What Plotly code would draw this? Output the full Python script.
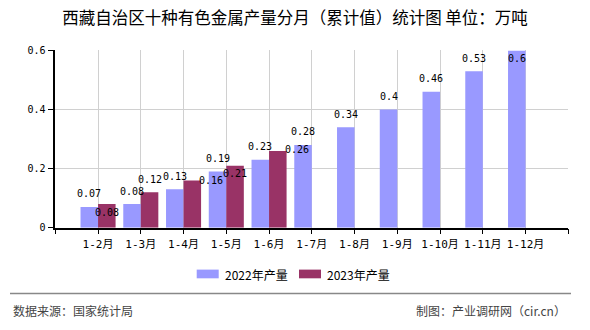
import plotly.graph_objects as go

# ---- data ----
categories = ["1-2月", "1-3月", "1-4月", "1-5月", "1-6月", "1-7月",
              "1-8月", "1-9月", "1-10月", "1-11月", "1-12月"]
values_2022 = [0.07, 0.08, 0.13, 0.19, 0.23, 0.28, 0.34, 0.40, 0.46, 0.53, 0.60]
values_2023 = [0.08, 0.12, 0.16, 0.21, 0.26]
labels_2022 = ["0.07", "0.08", "0.13", "0.19", "0.23", "0.28", "0.34", "0.4", "0.46", "0.53", "0.6"]
labels_2023 = ["0.08", "0.12", "0.16", "0.21", "0.26"]
series_names = ["2022年产量", "2023年产量"]
y_ticks = [0, 0.2, 0.4, 0.6]

# label offsets in pixels (y positive = up), as placed in the reference
shift_y_2022 = [13, 13, 13, 13, 13, 13, 13, 13, 13, 13, -8]
shift_y_2023 = [-8, 13, 0, -8, 1]
shift_x_2023 = [0, 0, 19, 0, 19]

C22 = "#9999FF"
C23 = "#993366"
W, H = 590, 330
MONO = "DejaVu Sans Mono, Noto Sans CJK SC, monospace"
CJK = "Noto Sans CJK SC, sans-serif"

def px(x):
    return x / W

def py(y):
    return 1 - y / H

idx = list(range(len(categories)))
fig = go.Figure()
fig.add_bar(x=idx, y=values_2022, name=series_names[0], marker_color=C22,
            marker_line_width=0, showlegend=False)
fig.add_bar(x=idx[:len(values_2023)], y=values_2023, name=series_names[1],
            marker_color=C23, marker_line_width=0, showlegend=False)

bargap = 0.18
half = (1 - bargap) / 4  # center offset of each bar in a group

annotations = []
for i, (v, t, s) in enumerate(zip(values_2022, labels_2022, shift_y_2022)):
    annotations.append(dict(x=i - half, y=v, xref="x", yref="y", text=t, showarrow=False,
                            yshift=s, xanchor="center", yanchor="middle",
                            font=dict(family=MONO, size=10, color="#000")))
for i, (v, t, s, sx) in enumerate(zip(values_2023, labels_2023, shift_y_2023, shift_x_2023)):
    annotations.append(dict(x=i + half, y=v, xref="x", yref="y", text=t, showarrow=False,
                            yshift=s, xshift=sx, xanchor="center", yanchor="middle",
                            font=dict(family=MONO, size=10, color="#000")))

# legend (manual, to match wide swatches)
legend_items = [(196.7, C22, series_names[0]), (299.0, C23, series_names[1])]
shapes = []
for x0, col, name in legend_items:
    shapes.append(dict(type="rect", xref="paper", yref="paper",
                       x0=px(x0), x1=px(x0 + 22), y0=py(281.7), y1=py(272.7),
                       fillcolor=col, line_width=0))
    annotations.append(dict(x=px(x0 + 26), y=py(277.5), xref="paper", yref="paper",
                            text=name, showarrow=False, xanchor="left", yanchor="middle",
                            font=dict(family=CJK, size=12, color="#000")))

# footer
shapes.append(dict(type="line", xref="paper", yref="paper", x0=px(10), x1=px(571),
                   y0=py(297.5), y1=py(297.5), line=dict(color="#888888", width=1.5)))
annotations.append(dict(x=px(11), y=py(315), xref="paper", yref="paper",
                        text="数据来源：国家统计局", showarrow=False, xanchor="left",
                        yanchor="middle", font=dict(family=CJK, size=12, color="#444")))
annotations.append(dict(x=px(568), y=py(315), xref="paper", yref="paper",
                        text="制图：产业调研网（cir.cn）", showarrow=False, xanchor="right",
                        yanchor="middle", font=dict(family=CJK, size=12, color="#444")))

fig.update_layout(
    width=W, height=H,
    margin=dict(l=0, r=0, t=0, b=0),
    paper_bgcolor="white", plot_bgcolor="white",
    barmode="group", bargap=bargap, bargroupgap=0,
    title=dict(text="西藏自治区十种有色金属产量分月（累计值）统计图 单位：万吨",
               x=0.5, xanchor="center", y=py(18), yanchor="middle", yref="container",
               font=dict(family=CJK, size=16.5, color="#000")),
    annotations=annotations, shapes=shapes,
    showlegend=False,
)

fig.update_xaxes(
    domain=[px(55.3), px(568.3)],
    range=[-1, len(categories)],
    tickmode="array",
    tickvals=list(range(-1, len(categories) + 1)),
    ticktext=[""] + categories + [""],
    showgrid=True, gridcolor="#d0d0d0", gridwidth=1,
    showline=True, linecolor="#000", linewidth=1.5,
    ticks="outside", ticklen=5, tickcolor="#000", tickwidth=1,
    tickfont=dict(family=MONO, size=11, color="#000"),
    zeroline=False, fixedrange=True,
)
fig.update_yaxes(
    domain=[py(229.3), py(46)],
    range=[0, 0.6],
    tickmode="array", tickvals=y_ticks,
    showgrid=True, gridcolor="#d0d0d0", gridwidth=1,
    showline=True, linecolor="#000", linewidth=1.5,
    ticks="outside", ticklen=6, tickcolor="#000", tickwidth=1,
    tickfont=dict(family=MONO, size=10, color="#000"),
    zeroline=False, fixedrange=True,
)

fig.write_html("out.html")
